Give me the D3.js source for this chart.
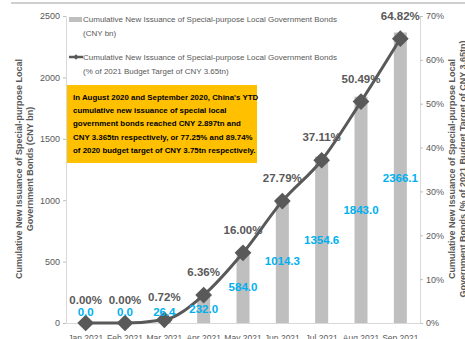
<!DOCTYPE html>
<html>
<head>
<meta charset="utf-8">
<script src="https://cdn.jsdelivr.net/npm/d3@7"></script>
<style>
  html, body { margin: 0; padding: 0; background: #fff; overflow: hidden; }
  #chart { width: 465px; height: 339px; }
  text { font-family: "Liberation Sans", Arial, sans-serif; }
</style>
</head>
<body>
<div id="chart"></div>
<script>
// Data
const months = ['Jan 2021', 'Feb 2021', 'Mar 2021', 'Apr 2021', 'May 2021', 'Jun 2021', 'Jul 2021', 'Aug 2021', 'Sep 2021'];
const issuance = [0.0, 0.0, 26.4, 232.0, 584.0, 1014.3, 1354.6, 1843.0, 2366.1];
const pctOfTarget = [0.00, 0.00, 0.72, 6.36, 16.00, 27.79, 37.11, 50.49, 64.82];
const leftTicks = [0, 500, 1000, 1500, 2000, 2500];
const rightTicks = [0, 10, 20, 30, 40, 50, 60, 70];
const legendLabels = [
    ['Cumulative New Issuance of Special-purpose Local Government Bonds', '(CNY bn)'],
    ['Cumulative New Issuance of Special-purpose Local Government Bonds', '(% of 2021 Budget Target of CNY 3.65tn)']
];
const noteLines = [
    "In August 2020 and September 2020, China's YTD",
    'cumulative new issuance of special local',
    'government bonds reached CNY 2.897tn and',
    'CNY 3.365tn respectively, or 77.25% and 89.74%',
    'of 2020 budget target of CNY 3.75tn respectively.'
];
const leftTitle = ['Cumulative New Issuance of Special-purpose Local', 'Government Bonds (CNY bn)'];
const rightTitle = ['Cumulative New Issuance of Special-purpose Local', 'Government Bonds (% of 2021 Budget Target of CNY 3.65tn)'];

const W = 465, H = 339;
const plot = { left: 66, right: 420, top: 16, bottom: 323 };
const grey = '#595959';
const barColor = '#bfbfbf';
const blue = '#00b0f0';

const data = months.map((m, i) => ({ month: m, value: issuance[i], pct: pctOfTarget[i] }));

const svg = d3.select('#chart')
    .append('svg')
    .attr('width', W)
    .attr('height', H);

// Top border line
svg.append('line')
    .attr('x1', 11).attr('x2', W)
    .attr('y1', 3).attr('y2', 3)
    .attr('stroke', '#bfbfbf')
    .attr('stroke-width', 1.5);

// Scales
const x = d3.scaleBand()
    .domain(months)
    .range([plot.left, plot.right]);

const yLeft = d3.scaleLinear()
    .domain([0, 2500])
    .range([plot.bottom, plot.top]);

const yRight = d3.scaleLinear()
    .domain([0, 70])
    .range([plot.bottom, plot.top]);

// Axes
const styleAxis = (g, size) => {
    g.select('.domain').attr('stroke', '#d9d9d9');
    g.selectAll('.tick line').attr('stroke', '#bfbfbf');
    g.selectAll('.tick text')
        .attr('fill', grey)
        .style('font-size', size)
        .style('font-family', '"Liberation Sans", Arial, sans-serif');
};

svg.append('g')
    .attr('transform', `translate(${plot.left},0)`)
    .call(d3.axisLeft(yLeft).tickValues(leftTicks).tickSizeInner(3).tickSizeOuter(0).tickPadding(3)
        .tickFormat(d3.format('d')))
    .call(styleAxis, '9px');

svg.append('g')
    .attr('transform', `translate(${plot.right},0)`)
    .call(d3.axisRight(yRight).tickValues(rightTicks).tickSizeInner(3).tickSizeOuter(0).tickPadding(3)
        .tickFormat(d => d + '%'))
    .call(styleAxis, '9px');

svg.append('g')
    .attr('transform', `translate(0,${plot.bottom})`)
    .call(d3.axisBottom(x).tickSize(0).tickPadding(12))
    .call(styleAxis, '8.5px');

// Bars
const barW = 13;
svg.append('g')
    .selectAll('rect')
    .data(data)
    .enter()
    .append('rect')
    .attr('x', d => x(d.month) + x.bandwidth() / 2 - barW / 2)
    .attr('y', d => yLeft(d.value))
    .attr('width', barW)
    .attr('height', d => plot.bottom - yLeft(d.value))
    .attr('fill', barColor);

// Line
const line = d3.line()
    .x(d => x(d.month) + x.bandwidth() / 2)
    .y(d => yRight(d.pct))
    .curve(d3.curveMonotoneX);

svg.append('path')
    .datum(data)
    .attr('fill', 'none')
    .attr('stroke', grey)
    .attr('stroke-width', 3)
    .attr('d', line);

// Diamond markers
const diamond = d3.symbol().type(d3.symbolSquare).size(140);
svg.append('g')
    .selectAll('path')
    .data(data)
    .enter()
    .append('path')
    .attr('d', diamond)
    .attr('transform', d => `translate(${x(d.month) + x.bandwidth() / 2},${yRight(d.pct)}) rotate(45)`)
    .attr('fill', grey);

// Percentage labels
svg.append('g')
    .selectAll('text')
    .data(data)
    .enter()
    .append('text')
    .attr('x', d => x(d.month) + x.bandwidth() / 2)
    .attr('y', d => yRight(d.pct) - 23)
    .attr('dy', '0.35em')
    .attr('text-anchor', 'middle')
    .attr('fill', grey)
    .style('font-weight', 'bold')
    .style('font-size', '11.5px')
    .text(d => d.pct.toFixed(2) + '%');

// Value labels (centre of bar, kept above the axis)
svg.append('g')
    .selectAll('text')
    .data(data)
    .enter()
    .append('text')
    .attr('x', d => x(d.month) + x.bandwidth() / 2)
    .attr('y', d => Math.min((yLeft(d.value) + plot.bottom) / 2, plot.bottom - 11))
    .attr('dy', '0.35em')
    .attr('text-anchor', 'middle')
    .attr('fill', blue)
    .style('font-weight', 'bold')
    .style('font-size', '11.5px')
    .text(d => d.value.toFixed(1));

// Legend
const legend = svg.append('g').attr('transform', 'translate(69,0)');
legend.append('rect')
    .attr('x', 0).attr('y', 17)
    .attr('width', 13).attr('height', 5)
    .attr('fill', barColor);
legend.append('line')
    .attr('x1', 0).attr('x2', 14)
    .attr('y1', 57).attr('y2', 57)
    .attr('stroke', grey).attr('stroke-width', 2.5);
legend.append('path')
    .attr('d', d3.symbol().type(d3.symbolSquare).size(14))
    .attr('transform', 'translate(7,57) rotate(45)')
    .attr('fill', grey);

legendLabels.forEach((lines, i) => {
    lines.forEach((t, j) => {
        legend.append('text')
            .attr('x', 14)
            .attr('y', 19 + i * 38 + j * 14)
            .attr('dy', '0.35em')
            .attr('fill', grey)
            .style('font-size', '8px')
            .text(t);
    });
});

// Yellow note box
svg.append('rect')
    .attr('x', 67).attr('y', 85)
    .attr('width', 190).attr('height', 78)
    .attr('fill', '#ffc000');

svg.append('g')
    .selectAll('text')
    .data(noteLines)
    .enter()
    .append('text')
    .attr('x', 73)
    .attr('y', (d, i) => 97 + i * 13.3)
    .attr('dy', '0.35em')
    .attr('fill', '#000')
    .style('font-weight', 'bold')
    .style('font-size', '7.9px')
    .text(d => d);

// Axis titles
const titleStyle = sel => sel
    .attr('text-anchor', 'middle')
    .attr('fill', grey)
    .style('font-weight', 'bold')
    .style('font-size', '9px');

leftTitle.forEach((t, i) => {
    svg.append('text')
        .attr('transform', `translate(${19 + i * 11},169) rotate(-90)`)
        .attr('dy', '0.35em')
        .call(titleStyle)
        .text(t);
});

rightTitle.forEach((t, i) => {
    svg.append('text')
        .attr('transform', `translate(${452 + i * 11},169) rotate(-90)`)
        .attr('dy', '0.35em')
        .call(titleStyle)
        .text(t);
});
</script>
</body>
</html>
